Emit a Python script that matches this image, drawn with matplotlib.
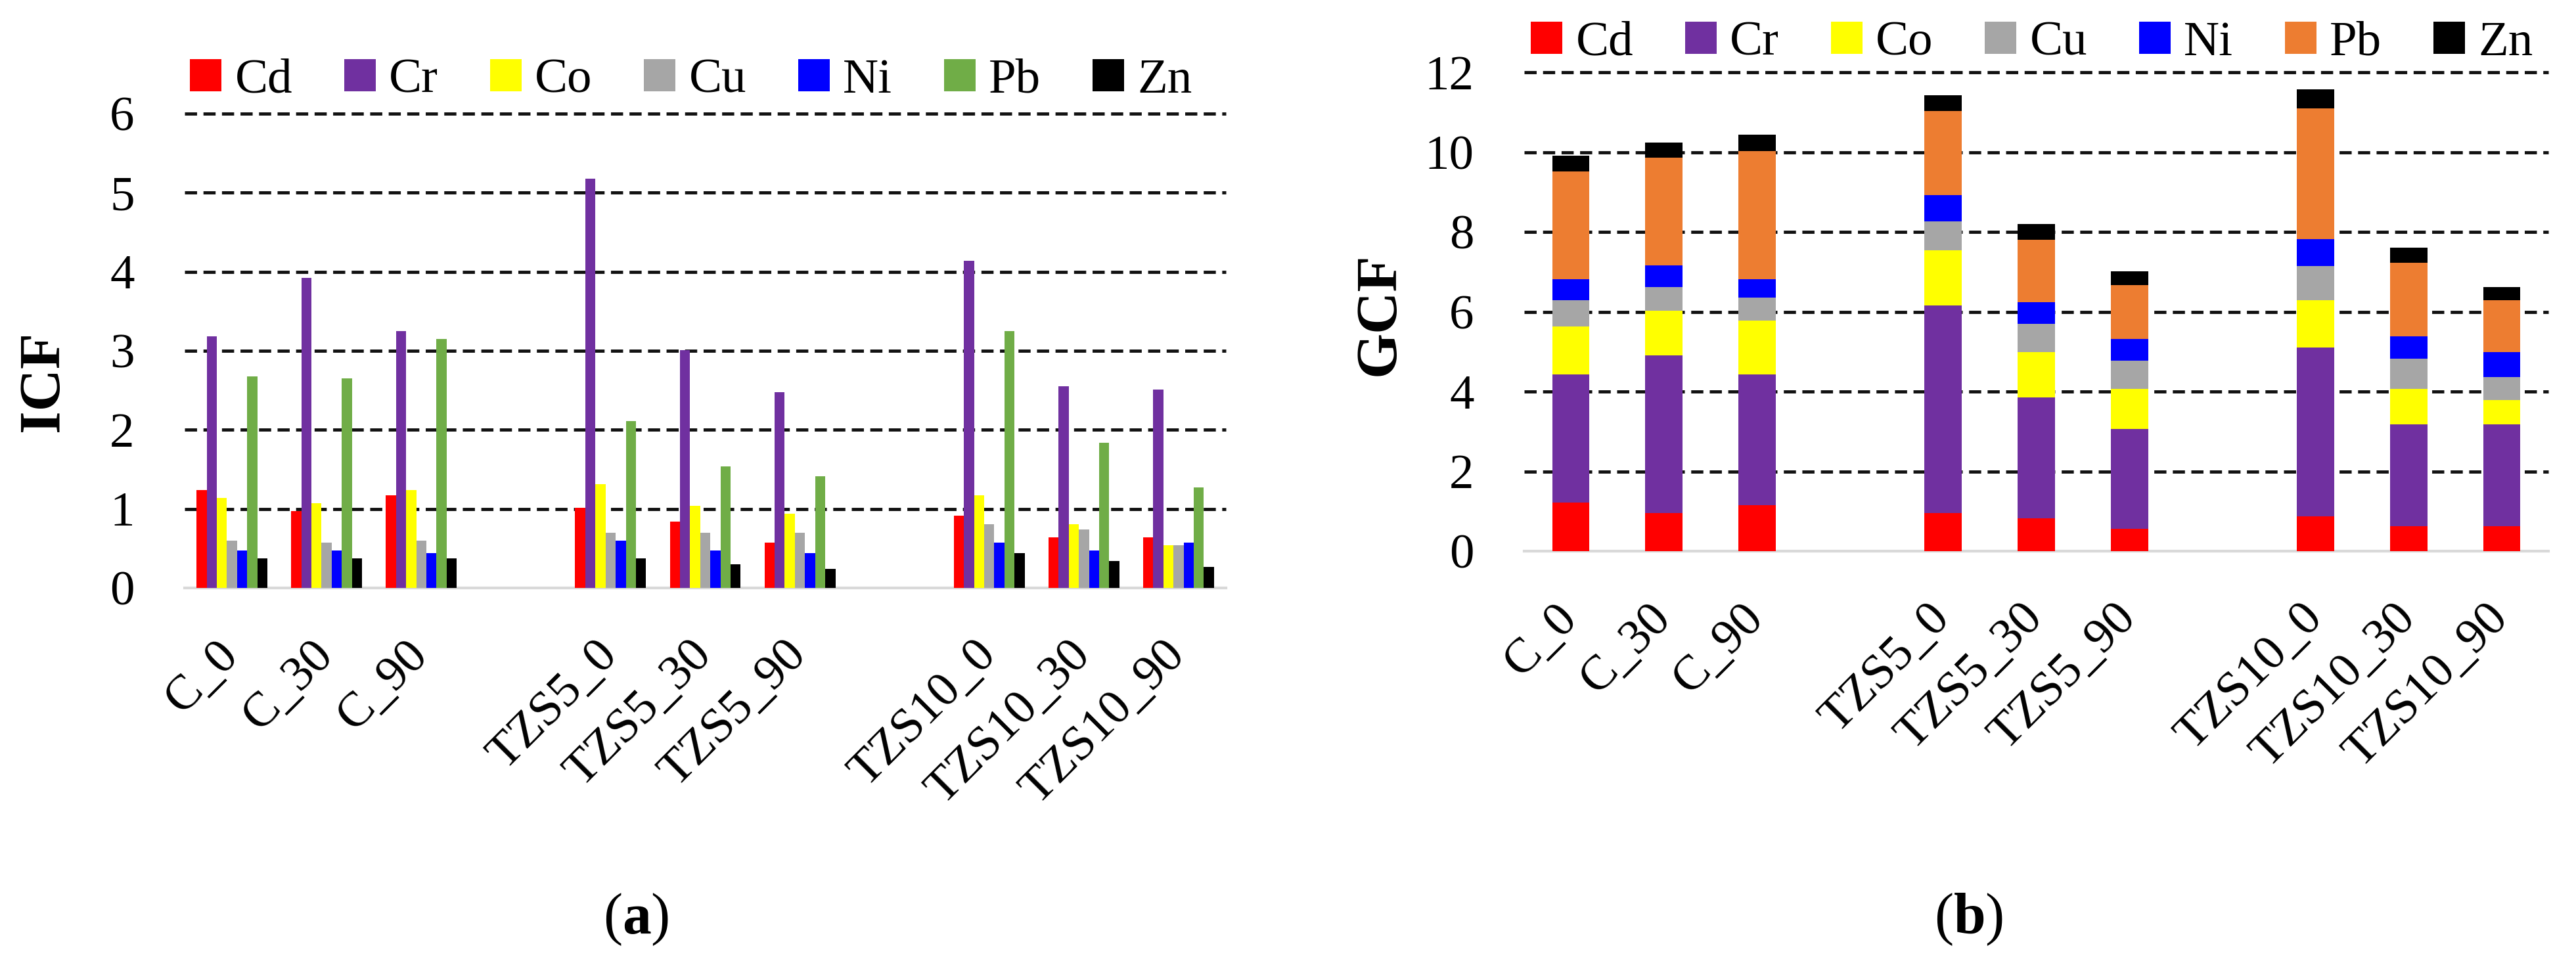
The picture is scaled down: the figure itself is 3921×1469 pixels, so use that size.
import numpy as np
import matplotlib
matplotlib.use("Agg")
import matplotlib.pyplot as plt

plt.rcParams['font.family'] = ['Liberation Serif', 'DejaVu Serif']
plt.rcParams['mathtext.fontset'] = 'custom'
plt.rcParams['mathtext.rm'] = 'Liberation Serif'
plt.rcParams['mathtext.bf'] = 'Liberation Serif:bold'

categories = ["C_0", "C_30", "C_90", "TZS5_0", "TZS5_30", "TZS5_90",
              "TZS10_0", "TZS10_30", "TZS10_90"]
metals = ["Cd", "Cr", "Co", "Cu", "Ni", "Pb", "Zn"]

# ICF values (panel a)
icf_cd = [1.24, 0.97, 1.17, 1.01, 0.84, 0.57, 0.91, 0.64, 0.64]
icf_cr = [3.18, 3.92, 3.25, 5.18, 3.01, 2.48, 4.14, 2.55, 2.51]
icf_co = [1.14, 1.07, 1.24, 1.31, 1.04, 0.94, 1.17, 0.81, 0.54]
icf_cu = [0.60, 0.57, 0.60, 0.70, 0.70, 0.70, 0.81, 0.74, 0.54]
icf_ni = [0.47, 0.47, 0.44, 0.60, 0.47, 0.44, 0.57, 0.47, 0.57]
icf_pb = [2.68, 2.65, 3.15, 2.11, 1.54, 1.41, 3.25, 1.84, 1.27]
icf_zn = [0.37, 0.37, 0.37, 0.37, 0.30, 0.24, 0.44, 0.34, 0.27]

# GCF stacked contributions (panel b)
gcf_cd = [1.22, 0.96, 1.16, 0.96, 0.82, 0.56, 0.88, 0.62, 0.62]
gcf_cr = [3.21, 3.94, 3.27, 5.19, 3.03, 2.50, 4.22, 2.56, 2.56]
gcf_co = [1.20, 1.13, 1.34, 1.39, 1.13, 1.00, 1.19, 0.88, 0.61]
gcf_cu = [0.65, 0.58, 0.58, 0.72, 0.72, 0.71, 0.86, 0.77, 0.58]
gcf_ni = [0.54, 0.55, 0.47, 0.67, 0.54, 0.55, 0.67, 0.55, 0.61]
gcf_pb = [2.70, 2.70, 3.21, 2.10, 1.56, 1.35, 3.28, 1.84, 1.31]
gcf_zn = [0.39, 0.38, 0.41, 0.40, 0.40, 0.35, 0.47, 0.39, 0.32]

icf_ticks = [0, 1, 2, 3, 4, 5, 6]
gcf_ticks = [0, 2, 4, 6, 8, 10, 12]

colors_a = ["#FF0000", "#7030A0", "#FFFF00", "#A6A6A6", "#0000FF", "#70AD47", "#000000"]
colors_b = ["#FF0000", "#7030A0", "#FFFF00", "#A6A6A6", "#0000FF", "#ED7D31", "#000000"]

icf = [icf_cd, icf_cr, icf_co, icf_cu, icf_ni, icf_pb, icf_zn]
gcf = [gcf_cd, gcf_cr, gcf_co, gcf_cu, gcf_ni, gcf_pb, gcf_zn]

# positions with an empty slot between sample groups
pos = np.arange(len(categories)) + np.arange(len(categories)) // 3

W, H = 3921, 1469
fig = plt.figure(figsize=(W / 100, H / 100), dpi=100)

ax1 = fig.add_axes([281 / W, 1 - 895 / H, (1866 - 281) / W, (895 - 173) / H])
ax2 = fig.add_axes([2320 / W, 1 - 839 / H, (3879 - 2320) / W, (839 - 110) / H])

FS = 54

def style(ax, ticks, label, lx, ly):
    ax.set_xlim(-0.5, pos[-1] + 0.5)
    ax.set_ylim(0, ticks[-1])
    for s in ["top", "right", "left"]:
        ax.spines[s].set_visible(False)
    ax.spines["bottom"].set_color("#D9D9D9")
    ax.spines["bottom"].set_linewidth(3)
    ax.spines["bottom"].set_zorder(1)
    for t in ticks[1:]:
        ax.axhline(t, color="#111111", lw=3.5, ls=(0, (3.8, 2)), zorder=0.5, clip_on=False)
    ax.set_yticks(ticks)
    ax.set_yticklabels([str(t) for t in ticks])
    ax.tick_params(axis="y", length=0, pad=55, labelsize=FS)
    ax.tick_params(axis="x", length=0, pad=66, labelsize=FS)
    ax.set_xticks(pos)
    ax.set_xticklabels(categories, rotation=45, ha="right", va="center",
                       rotation_mode="anchor")
    ax.set_ylabel(label, fontsize=64, fontweight="bold")
    ax.yaxis.set_label_coords(lx, ly)

# panel a: grouped bars
bw = 0.107
for i, (m, vals, c) in enumerate(zip(metals, icf, colors_a)):
    ax1.bar(pos + (i - 3) * bw, vals, width=bw, color=c, label=m, zorder=2)
style(ax1, icf_ticks, "ICF", -0.110, 0.436)

# panel b: stacked bars
bottom = np.zeros(len(categories))
for m, vals, c in zip(metals, gcf, colors_b):
    ax2.bar(pos, vals, width=0.40, bottom=bottom, color=c, label=m, zorder=2)
    bottom += np.array(vals)
style(ax2, gcf_ticks, "GCF", -0.115, 0.495)

leg_kw = dict(loc="center", ncol=7, frameon=False, fontsize=FS,
              handlelength=0.64, handleheight=0.62, handletextpad=0.27,
              columnspacing=1.05, borderaxespad=0, borderpad=0)
fig.legend(*ax1.get_legend_handles_labels(), bbox_to_anchor=(1052 / W, 1 - 123 / H), **leg_kw)
fig.legend(*ax2.get_legend_handles_labels(), bbox_to_anchor=(3093 / W, 1 - 66 / H), **leg_kw)

fig.text(968 / W, 1 - 1400 / H, r"($\mathbf{a}$)", ha="center", va="center", fontsize=63)
fig.text(2997 / W, 1 - 1400 / H, r"($\mathbf{b}$)", ha="center", va="center", fontsize=63)

fig.savefig("out.png", dpi=100, facecolor="white")
